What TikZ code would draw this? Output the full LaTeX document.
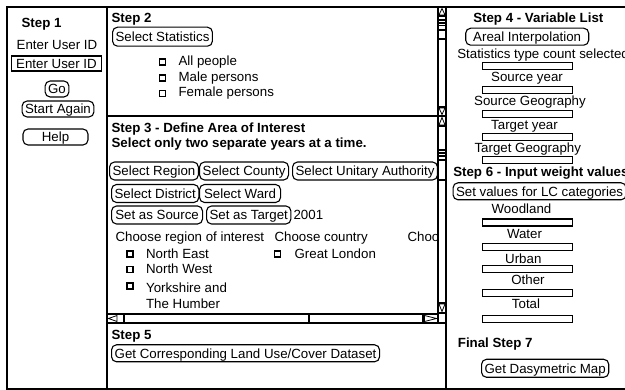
\documentclass[tikz,border=0pt]{standalone}
\usepackage{fontspec}
\setmainfont{Liberation Sans}

\begin{document}
\begin{tikzpicture}[x=1pt,y=-1pt,line width=1.2pt,
    font=\fontsize{13.3}{15}\selectfont,
    txt/.style={inner sep=0pt,anchor=base west},
    ctxt/.style={inner sep=0pt,anchor=base},
    heading/.style={txt,font=\fontsize{13.3}{15}\selectfont\bfseries},
    button/.style={draw,rounded corners=5pt,inner xsep=3pt,inner ysep=0pt,text height=9.5pt,text depth=0pt,minimum height=17pt,line width=1.1pt},
    inputbox/.style={draw,fill=white,inner sep=0pt,minimum width=90pt,minimum height=7pt,line width=1.1pt},
    checkbox/.style={draw,inner sep=0pt,minimum size=6pt,line width=1.3pt},
    arrowtri/.style={line width=0.8pt,line join=miter}]
    \useasboundingbox (0,0) rectangle (625,390);
    \draw (625,7) -- (7,7) -- (7,389) -- (625,389);
    \draw (107,7) -- (107,389);
    \draw (446,7) -- (446,389);
    \draw (107,116) -- (438,116);
    \draw[line width=2pt] (107,323) -- (438,323);

    \draw (438,7) rectangle (446,116);
    \draw (438,16) -- (446,16);
    \draw[arrowtri] (439,15) -- (442,8.5) -- (445,15) -- cycle;
    \draw (438,20) rectangle (446,39);
    \draw (438,23) -- (446,23) (438,25.5) -- (446,25.5) (438,30) -- (446,30);
    \draw (438,107) -- (446,107);
    \draw[arrowtri] (439,108) -- (442,114.5) -- (445,108) -- cycle;

    \draw (438,116) rectangle (446,313);
    \draw (438,126) -- (446,126);
    \draw[arrowtri] (439,125) -- (442,117.5) -- (445,125) -- cycle;
    \draw (438,150) rectangle (446,180);
    \draw (438,153) -- (446,153) (438,156) -- (446,156) (438,160) -- (446,160);
    \draw (438,303) -- (446,303);
    \draw[arrowtri] (439,304) -- (442,311.5) -- (445,304) -- cycle;
    \draw (438,313) rectangle (446,323);

    \draw (107,314) rectangle (438,323);
    \draw[arrowtri] (117,315.5) -- (108.5,318.5) -- (117,321.5) -- cycle;
    \draw (124,314) -- (124,323) (309,314) -- (309,323) (423,314) -- (423,323);
    \draw[arrowtri] (424.5,315.5) -- (436.5,318.5) -- (424.5,321.5) -- cycle;

    \node[heading] (step1) at (21,27.3) {Step 1};
    \node[ctxt] (userlabel) at (57,50) {Enter User ID};
    \node[draw,inner xsep=5pt,inner ysep=0pt,text height=9.5pt,text depth=0pt,minimum height=15pt] (userbox) at (56.5,63.5) {Enter User ID};
    \node[button,minimum height=16pt] (gobtn) at (57,89) {Go};
    \node[button,minimum height=16pt] (againbtn) at (58,109) {Start Again};
    \node[button,minimum height=16pt,minimum width=65pt] (helpbtn) at (55.5,137) {Help};

    \node[heading] (step2) at (111,22.7) {Step 2};
    \node[button,anchor=west,minimum height=19pt] (statsbtn) at (112,36.7) {Select Statistics};
    \node[checkbox] (cball) at (162.5,62) {};
    \node[txt] (allpeople) at (178,65.7) {All people};
    \node[checkbox] (cbmale) at (162.5,78) {};
    \node[txt] (male) at (178,81.7) {Male persons};
    \node[checkbox] (cbfemale) at (162.5,93.5) {};
    \node[txt] (female) at (178,96.7) {Female persons};

    \node[heading] (step3) at (111,132.3) {Step 3 - Define Area of Interest};
    \node[heading] (twoyears) at (111,147.3) {Select only two separate years at a time.};
    \node[button,anchor=west,minimum height=18pt,minimum width=88pt] (region) at (109,171) {Select Region};
    \node[button,anchor=west,minimum height=18pt,minimum width=89pt] (county) at (199,171) {Select County};
    \node[button,anchor=west,minimum height=18pt] (unitary) at (292,171) {Select Unitary Authority};
    \node[button,anchor=west,minimum height=18pt] (district) at (111,193.5) {Select District};
    \node[button,anchor=west,minimum height=18pt,minimum width=81pt] (ward) at (199,193.5) {Select Ward};
    \node[button,anchor=west,minimum height=18pt,minimum width=91pt] (source) at (111,215) {Set as Source};
    \node[button,anchor=west,minimum height=18pt] (target) at (206,215) {Set as Target};
    \node[txt] (year) at (293,220) {2001};
    \node[txt] (chooseregion) at (115,241.7) {Choose region of interest};
    \node[txt] (choosecountry) at (274,241.7) {Choose country};
    \node[txt] (choosemore) at (407,241.7) {Choo};
    \node[checkbox] (cbnortheast) at (130,254) {};
    \node[txt] (northeast) at (145.5,258.3) {North East};
    \node[checkbox] (cbnorthwest) at (130,269.5) {};
    \node[txt] (northwest) at (145.5,273.3) {North West};
    \node[checkbox] (cbyorkshire) at (130,286) {};
    \node[txt] (yorkshire) at (145.5,292.3) {Yorkshire and};
    \node[txt] (humber) at (145.5,308.3) {The Humber};
    \node[checkbox] (cblondon) at (277.5,254) {};
    \node[txt] (london) at (294,258.3) {Great London};

    \node[heading] (step5) at (111,340) {Step 5};
    \node[button,anchor=west,minimum width=268pt] (landcover) at (111,353.3) {Get Corresponding Land Use/Cover Dataset};

    \node[heading,anchor=base] (step4) at (538.3,22.7) {Step 4 - Variable List};
    \node[button,minimum width=123pt] (areal) at (527.2,36.7) {Areal Interpolation};
    \node[txt] (stattype) at (456.7,58.3) {Statistics type count selected};
    \node[inputbox] (statbox) at (527.7,66) {};
    \node[ctxt] (srcyear) at (527,81.7) {Source year};
    \node[inputbox] (srcyearbox) at (527.7,90) {};
    \node[ctxt] (srcgeo) at (530,106) {Source Geography};
    \node[inputbox] (srcgeobox) at (527.7,113.7) {};
    \node[ctxt] (tgtyear) at (524.5,129.3) {Target year};
    \node[inputbox] (tgtyearbox) at (527.7,136.7) {};
    \node[ctxt] (tgtgeo) at (527.8,152.7) {Target Geography};
    \node[inputbox] (tgtgeobox) at (527.7,160) {};
    \node[heading] (step6) at (452.7,176.7) {Step 6 - Input weight values};
    \node[button,anchor=west] (lcbtn) at (452.5,191.3) {Set values for LC categories};
    \node[ctxt] (woodland) at (521.5,214) {Woodland};
    \node[inputbox] (woodbox) at (527.7,222.5) {};
    \node[ctxt] (water) at (524.5,238.3) {Water};
    \node[inputbox] (waterbox) at (527.7,247) {};
    \node[ctxt] (urban) at (523.3,264) {Urban};
    \node[inputbox] (urbanbox) at (527.7,269) {};
    \node[ctxt] (other) at (528,285) {Other};
    \node[inputbox] (otherbox) at (527.7,293) {};
    \node[ctxt] (total) at (526,309) {Total};
    \node[inputbox] (totalbox) at (527.7,319) {};
    \node[heading] (step7) at (457.3,347.7) {Final Step 7};
    \node[button,anchor=west,minimum height=18pt] (dasybtn) at (481,368.3) {Get Dasymetric Map};
\end{tikzpicture}
\end{document}
